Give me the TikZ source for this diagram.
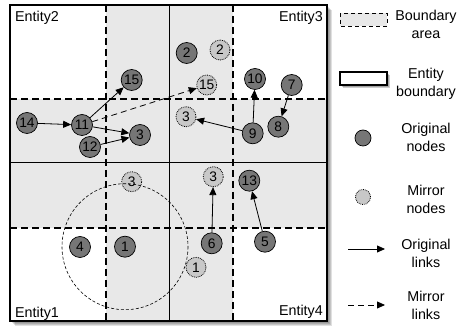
\documentclass[tikz,border=0pt]{standalone}
\usepackage{fontspec}
\setmainfont{Liberation Sans}
\usetikzlibrary{arrows.meta}
\definecolor{nodegray}{HTML}{767676}
\definecolor{mirrorgray}{HTML}{C8C8C8}
\definecolor{bandgray}{HTML}{E8E8E8}
\begin{document}
\begin{tikzpicture}[x=1pt,y=-1pt,
  every node/.style={font=\fontsize{13.8}{17}\selectfont},
  orig/.style={circle,draw=black,fill=nodegray,minimum size=21pt,inner sep=0pt,line width=0.7pt},
  mirror/.style={circle,draw=black,densely dotted,fill=mirrorgray,minimum size=20pt,inner sep=0pt,line width=0.8pt},
  link/.style={-{Triangle[length=8pt,width=7pt]},line width=0.8pt},
  mlink/.style={link,dash pattern=on 6pt off 4pt},
  bound/.style={line width=1.1pt,dash pattern=on 7pt off 4pt},
  legtext/.style={align=center,inner sep=0pt,font=\fontsize{14.3}{18}\selectfont},
  entlabel/.style={inner sep=0pt,font=\fontsize{14.3}{17}\selectfont},
  shadowlayer/.style={fill=black,opacity=0.12,draw=none}
 ]
\useasboundingbox[fill=white] (0,0) rectangle (461,328);

% soft shadow under the entity square
\foreach \d in {1,2,3,4,5}
  \fill[shadowlayer] (10+\d,5+\d) rectangle (327+\d,321+\d);

% entity square with its boundary bands
\fill[white] (10,5) rectangle (327,321);
\fill[bandgray] (106,5) rectangle (233,321);
\fill[bandgray] (10,99) rectangle (327,228);
\draw[bound] (106,5) -- (106,321);
\draw[bound] (233,5) -- (233,321);
\draw[bound] (10,99) -- (327,99);
\draw[bound] (10,228) -- (327,228);
\draw[line width=0.8pt] (169,5) -- (169,321);
\draw[line width=0.8pt] (10,162) -- (327,162);
\draw[line width=1.6pt] (10,5) rectangle (327,321);

% nodes of Entity2
\node[orig] (n15) at (131.7,80) {15};
\node[orig] (n14) at (27,123) {14};
\node[orig] (n11) at (82,125) {11};
\node[orig] (n3) at (140,135) {3};
\node[orig] (n12) at (90,147) {12};
% nodes of Entity3
\node[orig] (n2) at (186.7,53) {2};
\node[mirror] (m2) at (220,50) {2};
\node[mirror] (m15) at (206.7,85) {15};
\node[orig] (n10) at (255,79) {10};
\node[orig] (n7) at (291.7,85) {7};
\node[mirror] (m3a) at (186,116.7) {3};
\node[orig] (n9) at (252.7,133.3) {9};
\node[orig] (n8) at (278.3,126.7) {8};
% nodes of Entity1
\node[mirror] (m3b) at (131.7,181.7) {3};
\node[orig] (n4) at (80,247) {4};
\node[orig] (n1) at (125,246.7) {1};
% nodes of Entity4
\node[mirror] (m3c) at (213.3,176.7) {3};
\node[orig] (n13) at (249.3,180.7) {13};
\node[orig] (n6) at (211.7,243.3) {6};
\node[orig] (n5) at (265,241.7) {5};
\node[mirror] (m1) at (196,267.3) {1};

% neighbourhood of node 1
\draw[line width=0.6pt,dash pattern=on 3pt off 2pt] (n1.center) circle[radius=63];

% links
\draw[link] (n14) -- (n11);
\draw[link] (n11) -- (n15);
\draw[link] (n11) -- (n3);
\draw[link] (n12) -- (n3);
\draw[mlink] (n11) -- (m15);
\draw[link] (n9) -- (n10);
\draw[link] (n9) -- (m3a);
\draw[link] (n7) -- (n8);
\draw[link] (n6) -- (m3c);
\draw[link] (n5) -- (n13);

% entity names
\node[entlabel,anchor=west] (e2) at (15,18) {Entity2};
\node[entlabel,anchor=east] (e3) at (323,18) {Entity3};
\node[entlabel,anchor=west] (e1) at (15,314) {Entity1};
\node[entlabel,anchor=east] (e4) at (323,312) {Entity4};

% legend
\draw[fill=bandgray,line width=0.6pt,dash pattern=on 4pt off 3pt] (340,13) rectangle (387,26);
\node[legtext] (lb) at (426,24) {Boundary\\area};
\foreach \d in {1,2,3}
  \fill[shadowlayer,opacity=0.2] (340+\d,72+\d) rectangle (387+\d,85+\d);
\draw[fill=white,line width=1.5pt] (340,72) rectangle (387,85);
\node[legtext] (le) at (426,84) {Entity\\boundary};
\node[orig,minimum size=16pt] (lo) at (363,138) {};
\node[legtext] (lon) at (426,137) {Original\\nodes};
\node[mirror,minimum size=15pt] (lm) at (363,197) {};
\node[legtext] (lmn) at (426,199) {Mirror\\nodes};
\coordinate (la1) at (348,249);
\coordinate (la2) at (385,249);
\draw[link] (la1) -- (la2);
\node[legtext] (lol) at (426,253) {Original\\links};
\coordinate (lb1) at (348,305);
\coordinate (lb2) at (385,305);
\draw[mlink] (lb1) -- (lb2);
\node[legtext] (lml) at (426,305) {Mirror\\links};
\end{tikzpicture}
\end{document}
